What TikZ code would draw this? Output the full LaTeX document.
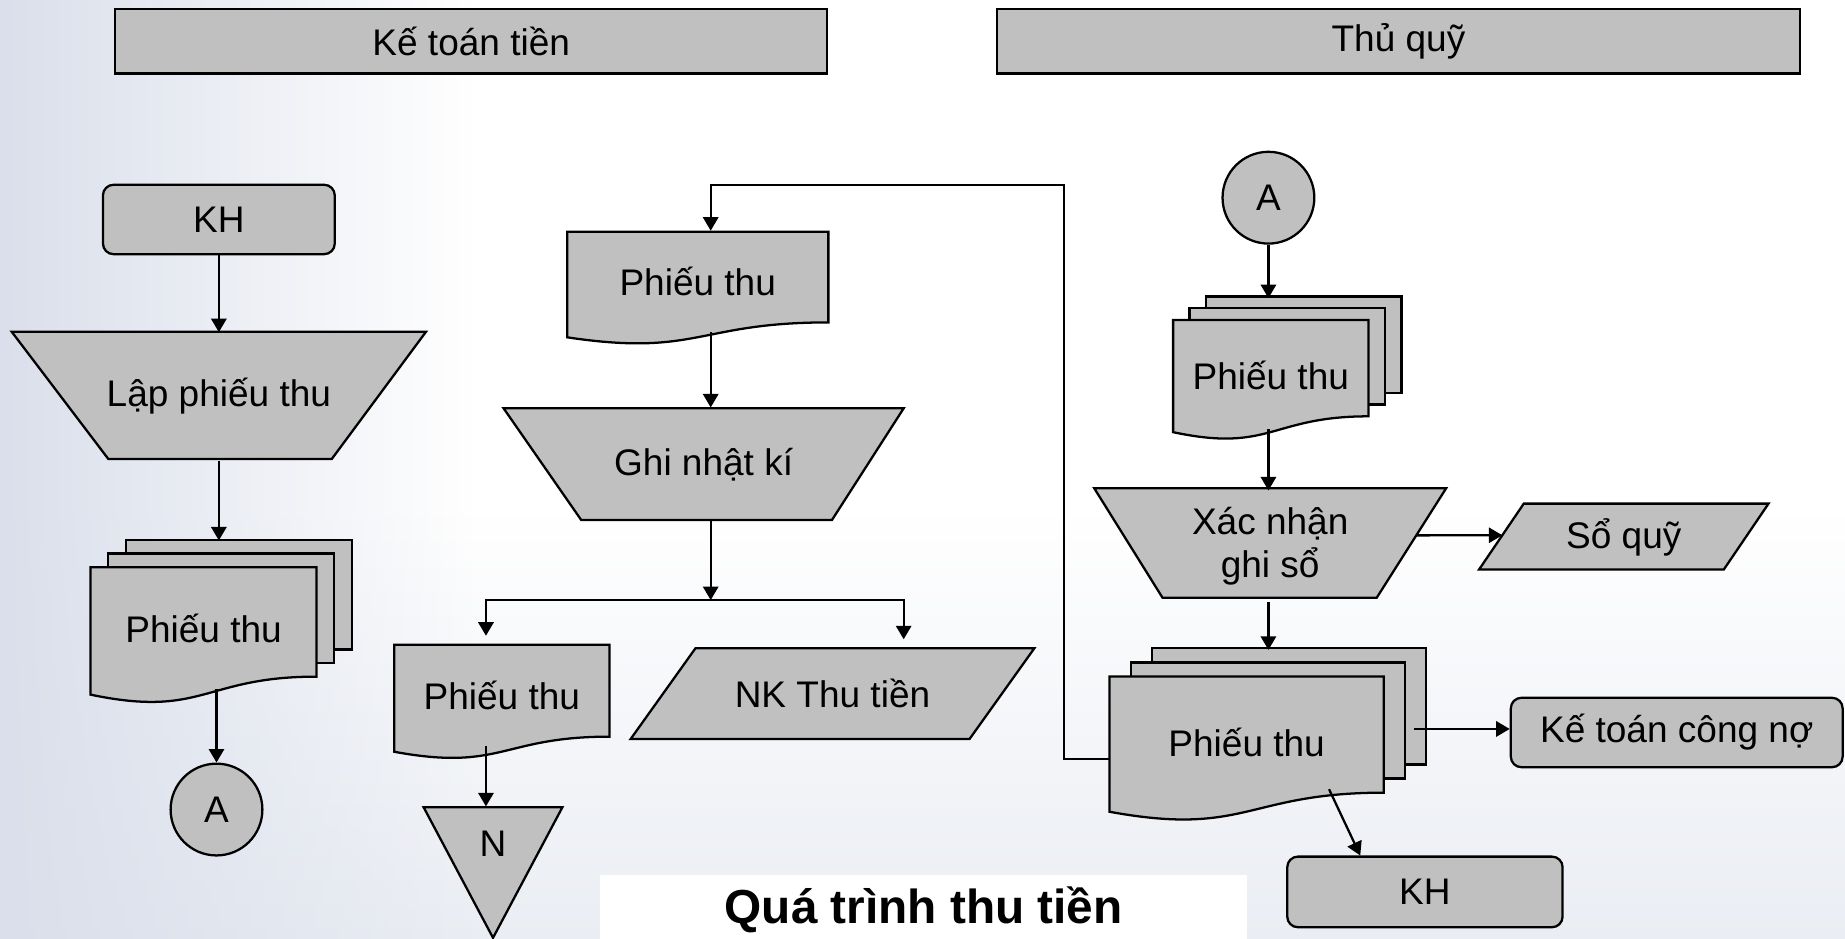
\documentclass[tikz,border=0pt]{standalone}
\usepackage{fontspec}
\setmainfont{Liberation Sans}
\usetikzlibrary{arrows.meta,calc,fadings}

\definecolor{boxgray}{RGB}{192,192,192}
\definecolor{bgblue}{RGB}{218,223,235}
\definecolor{bgfoot}{RGB}{234,237,243}

% single document sheet: left, top, right, height
\newcommand\docshape[4]{%
  \filldraw[shp] (#1,#2) -- (#3,#2) -- (#3,{#2+0.802*#4})
    .. controls ({(#1+#3)/2},{#2+0.802*#4}) and ({(#1+#3)/2},{#2+1.1075*#4}) .. (#1,{#2+0.934*#4}) -- cycle;}
% stack of three sheets: left, top, right, height, x offset, y offset
\newcommand\multidoc[6]{%
  \filldraw[shp] ({#1+2*#5},{#2-2*#6}) rectangle ({#3+2*#5},{#2+0.802*#4-2*#6});
  \filldraw[shp] ({#1+#5},{#2-#6}) rectangle ({#3+#5},{#2+0.802*#4-#6});
  \docshape{#1}{#2}{#3}{#4}}

\begin{document}
\begin{tikzpicture}[x=0.1mm, y=-0.1mm,
  shp/.style={fill=boxgray, draw=black, line width=0.55pt, line join=miter},
  lbl/.style={inner sep=0pt, align=center, font=\fontsize{8.95pt}{10.5pt}\selectfont},
  box/.style={shp, lbl, rectangle},
  arr/.style={draw=black, line width=0.55pt, -{Triangle[length=1.15mm,width=1.3mm]}},
]
\useasboundingbox (0,0) rectangle (1568,798);

% background
\fill[white] (0,0) rectangle (1568,798);
\shade[top color=white, bottom color=bgfoot] (0,430) rectangle (1568,798);
\fill[bgblue, path fading=east] (0,0) rectangle (400,798);

% lane headers
\node[box, minimum width=60.5mm, minimum height=5.5mm] (kt) at (400.5,35) {Kế toán tiền};
\node[box, minimum width=68.3mm, minimum height=5.5mm] (tq) at (1188.5,35) {Thủ quỹ};

% ---- Kế toán tiền, left column
\node[box, rounded corners=0.9mm, minimum width=19.7mm, minimum height=5.9mm] (kh1) at (186,186.5) {KH};

\filldraw[shp] (10,282) -- (362,282) -- (282,390) -- (92,390) -- cycle;
\node[lbl, minimum width=35.2mm, minimum height=10.8mm] (lap) at (186,337) {Lập phiếu thu};

\multidoc{77}{482}{269}{116}{15}{11.5}
\node[lbl, minimum width=19.2mm, minimum height=10.2mm] (ptL) at (173,534) {Phiếu thu};

\node[box, circle, minimum size=7.8mm] (aL) at (184,688) {A};

% ---- Kế toán tiền, right column
\coordinate (colM) at (604,0);
\coordinate (colL) at (413,0);
\coordinate (colR) at (768,0);
\coordinate (loopTop) at (904,157);
\coordinate (split) at (604,510);

\docshape{482}{197}{704}{96}
\node[lbl, minimum width=22.2mm, minimum height=8.45mm] (ptM) at (593,239) {Phiếu thu};

\filldraw[shp] (428,347) -- (768,347) -- (707,442) -- (494,442) -- cycle;
\node[lbl, minimum width=34mm, minimum height=9.5mm] (ghi) at (598,394.5) {Ghi nhật kí};

\docshape{335}{548}{518}{97.3}
\node[lbl, minimum width=18.3mm, minimum height=8.56mm] (ptML) at (426.5,590.8) {Phiếu thu};

\filldraw[shp] (591,551) -- (879,551) -- (824,628) -- (536,628) -- cycle;
\node[lbl, minimum width=28.8mm, minimum height=7.7mm] (nk) at (707.5,589.5) {NK Thu tiền};

\filldraw[shp] (360,686) -- (478,686) -- (419,797) -- cycle;
\node[lbl, minimum width=11.8mm, minimum height=6.2mm] (nN) at (419,717) {N};

% ---- Thủ quỹ
\node[box, circle, minimum size=7.8mm] (aR) at (1078,168) {A};

\multidoc{997}{272}{1163}{102}{14}{10}
\node[lbl, minimum width=16.6mm, minimum height=8.98mm] (ptR1) at (1080,319) {Phiếu thu};

\coordinate (xnTR) at (1229,415);
\coordinate (xnBR) at (1170,508);
\filldraw[shp] (930,415) -- (xnTR) -- (xnBR) -- (988,508) -- cycle;
\node[lbl, minimum width=29.9mm, minimum height=9.3mm] (xn) at (1079.5,464) {Xác nhận\\ghi sổ};

\coordinate (sqTL) at (1295,428);
\coordinate (sqBL) at (1257,484);
\filldraw[shp] (sqTL) -- (1503,428) -- (1465,484) -- (sqBL) -- cycle;
\node[lbl, minimum width=24.6mm, minimum height=5.6mm] (sq) at (1380,457) {Sổ quỹ};

\multidoc{943}{575}{1176}{123}{18}{12}
\node[lbl, minimum width=23.3mm, minimum height=10.8mm] (ptR2) at (1059.5,631) {Phiếu thu};

\node[box, rounded corners=0.9mm, minimum width=28.2mm, minimum height=5.9mm] (ktcn) at (1425,622.5) {Kế toán công nợ};
\node[box, rounded corners=0.9mm, minimum width=23.4mm, minimum height=6.0mm] (kh2) at (1211,758) {KH};

% title
\node[fill=white, inner sep=0pt, minimum width=55mm, minimum height=5.8mm,
      font=\bfseries\fontsize{11.55pt}{13pt}\selectfont] (title) at (785,773) {Quá trình thu tiền};

% ---- connectors
\draw[arr] (kh1.south) -- (kh1.south |- lap.north);
\draw[arr] (lap.south) -- ($(lap.south |- ptL.north)+(0,-23)$);
\draw[arr] (ptL.south -| aL.north) -- (aL.north);

\draw[arr] ($(ptR2.west)+(0,14)$) -| (loopTop) -| (ptM.north -| colM);
\draw[arr] (ptM.south -| colM) -- (ghi.north -| colM);
\draw[arr] (ghi.south -| colM) -- (split);
\draw[arr, shorten >=0.7mm] (split) -| (ptML.north -| colL);
\draw[arr, shorten >=0.7mm] (split) -| (nk.north -| colR);
\draw[arr] (ptML.south -| colL) -- (nN.north -| colL);

\draw[arr] (aR.south) -- ($(aR.south |- ptR1.north)+(0,-20)$);
\draw[arr] (ptR1.south -| aR.south) -- (xn.north -| aR.south);
\draw[arr] ($(xnTR)!0.43!(xnBR)$) -- ($(sqTL)!0.48!(sqBL)$);
\draw[arr] (xn.south -| aR.south) -- ($(aR.south |- ptR2.north)+(0,-24)$);
\draw[arr] ($(ptR2.east |- ktcn.west)+(25,-3)$) -- ($(ktcn.west)+(0,-3)$);
\draw[arr] ($(ptR2.south)+(70,-15)$) -- ($(kh2.north west)+(63,0)$);
\end{tikzpicture}
\end{document}
